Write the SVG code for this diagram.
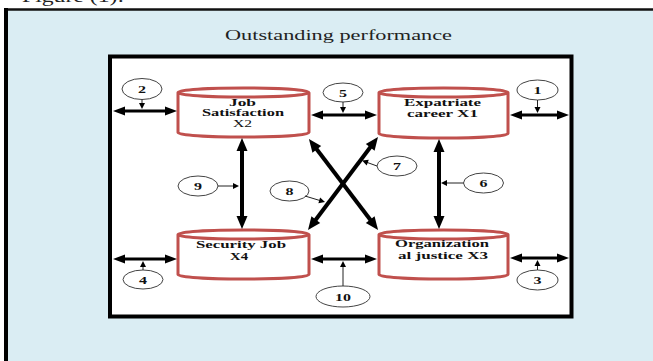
<svg xmlns="http://www.w3.org/2000/svg" width="653" height="361" viewBox="0 0 653 361">
<style>
.cyl{fill:#fff;stroke:#c0504d;stroke-width:3}
.bub{fill:#fff;stroke:#444;stroke-width:1}
.t3{stroke:#000;stroke-width:3;fill:none}
.t4{stroke:#000;stroke-width:4;fill:none}
.th{stroke:#222;stroke-width:1;fill:none}
.lbl{font-family:"Liberation Serif","Times New Roman",serif;font-weight:bold;font-size:10.5px;fill:#111}
.reg{font-weight:normal}
.num{font-family:"Liberation Serif","Times New Roman",serif;font-weight:bold;font-size:10.5px;fill:#111;text-anchor:middle}
</style>
<defs>
<marker id="m3" markerUnits="userSpaceOnUse" markerWidth="12" markerHeight="9" refX="3" refY="4.5" orient="auto-start-reverse" overflow="visible"><path d="M0,0 L12,4.5 L0,9 z" fill="#000"/></marker>
<marker id="m4" markerUnits="userSpaceOnUse" markerWidth="13" markerHeight="11" refX="3" refY="5.5" orient="auto-start-reverse" overflow="visible"><path d="M0,0 L13,5.5 L0,11 z" fill="#000"/></marker>
<marker id="ms" markerUnits="userSpaceOnUse" markerWidth="6" markerHeight="6" refX="1" refY="3" orient="auto" overflow="visible"><path d="M0,0 L6,3 L0,6 z" fill="#000"/></marker>
</defs>

<text x="22" y="2" font-family="Liberation Serif, serif" font-size="16" fill="#222" textLength="102" lengthAdjust="spacingAndGlyphs">Figure (1):</text>

<g id="panel">
<rect x="6" y="9.5" width="660" height="360" fill="#daedf3"/>
<line x1="4" y1="9.5" x2="653" y2="9.5" stroke="#111" stroke-width="2.5"/>
<line x1="6" y1="8" x2="6" y2="361" stroke="#000" stroke-width="4"/>
<text x="225" y="40" font-family="Liberation Serif, serif" font-size="15" fill="#222" textLength="227" lengthAdjust="spacingAndGlyphs">Outstanding performance</text>
<rect x="110" y="56.5" width="461.5" height="260" fill="#fff" stroke="#000" stroke-width="4"/>
</g>

<g id="x2">
<path class="cyl" d="M178,92.5 A65.5,4.5 0 0 1 309,92.5 L309,132.5 A65.5,4.5 0 0 1 178,132.5 Z M178,92.5 A65.5,4.5 0 0 0 309,92.5"/>
<text class="lbl" x="229" y="105.5" textLength="27" lengthAdjust="spacingAndGlyphs">Job</text>
<text class="lbl" x="202" y="116" textLength="82" lengthAdjust="spacingAndGlyphs">Satisfaction</text>
<text class="lbl reg" x="233" y="127" textLength="19" lengthAdjust="spacingAndGlyphs">X2</text>
</g>
<g id="x1">
<path class="cyl" d="M379,92.5 A64.5,4.5 0 0 1 508,92.5 L508,133.5 A64.5,4.5 0 0 1 379,133.5 Z M379,92.5 A64.5,4.5 0 0 0 508,92.5"/>
<text class="lbl" x="404" y="106" textLength="77" lengthAdjust="spacingAndGlyphs">Expatriate</text>
<text class="lbl" x="407" y="117" textLength="71" lengthAdjust="spacingAndGlyphs">career X1</text>
</g>
<g id="x4">
<path class="cyl" d="M178,234.5 A65.5,4.5 0 0 1 309,234.5 L309,274.5 A65.5,4.5 0 0 1 178,274.5 Z M178,234.5 A65.5,4.5 0 0 0 309,234.5"/>
<text class="lbl" x="196" y="248" textLength="90" lengthAdjust="spacingAndGlyphs">Security Job</text>
<text class="lbl" x="230" y="260" textLength="18" lengthAdjust="spacingAndGlyphs">X4</text>
</g>
<g id="x3">
<path class="cyl" d="M379,234.5 A64.5,4.5 0 0 1 508,234.5 L508,274.5 A64.5,4.5 0 0 1 379,274.5 Z M379,234.5 A64.5,4.5 0 0 0 508,234.5"/>
<text class="lbl" x="395" y="247" textLength="94" lengthAdjust="spacingAndGlyphs">Organization</text>
<text class="lbl" x="398" y="258.5" textLength="90" lengthAdjust="spacingAndGlyphs">al justice X3</text>
</g>

<g id="b1"><ellipse class="bub" cx="537.5" cy="90" rx="20.5" ry="10"/><text class="num" x="537.5" y="94" textLength="8" lengthAdjust="spacingAndGlyphs">1</text></g>
<g id="b2"><ellipse class="bub" cx="142" cy="89" rx="20" ry="10.5"/><text class="num" x="142" y="93" textLength="8" lengthAdjust="spacingAndGlyphs">2</text></g>
<g id="b3"><ellipse class="bub" cx="537.5" cy="280" rx="20.5" ry="10"/><text class="num" x="537.5" y="284" textLength="8" lengthAdjust="spacingAndGlyphs">3</text></g>
<g id="b4"><ellipse class="bub" cx="143" cy="279.5" rx="20" ry="9.5"/><text class="num" x="143" y="283.5" textLength="8" lengthAdjust="spacingAndGlyphs">4</text></g>
<g id="b5"><ellipse class="bub" cx="343" cy="92.5" rx="20" ry="9.5"/><text class="num" x="343" y="96.5" textLength="8" lengthAdjust="spacingAndGlyphs">5</text></g>
<g id="b6"><ellipse class="bub" cx="483.5" cy="183" rx="20" ry="10"/><text class="num" x="483.5" y="187" textLength="8" lengthAdjust="spacingAndGlyphs">6</text></g>
<g id="b7"><ellipse class="bub" cx="397" cy="166" rx="20" ry="10"/><text class="num" x="397" y="170" textLength="8" lengthAdjust="spacingAndGlyphs">7</text></g>
<g id="b8"><ellipse class="bub" cx="289.5" cy="191" rx="19.5" ry="10"/><text class="num" x="289.5" y="195" textLength="8" lengthAdjust="spacingAndGlyphs">8</text></g>
<g id="b9"><ellipse class="bub" cx="198" cy="186" rx="20" ry="10"/><text class="num" x="198" y="190" textLength="8" lengthAdjust="spacingAndGlyphs">9</text></g>
<g id="b10"><ellipse class="bub" cx="343" cy="296.5" rx="27" ry="10.5"/><text class="num" x="343" y="300.5" textLength="16" lengthAdjust="spacingAndGlyphs">10</text></g>

<g id="connectors">
<line class="t3" x1="122" y1="111" x2="168" y2="111" marker-start="url(#m3)" marker-end="url(#m3)"/>
<line class="t3" x1="320" y1="115" x2="368" y2="115" marker-start="url(#m3)" marker-end="url(#m3)"/>
<line class="t3" x1="519" y1="115" x2="560" y2="115" marker-start="url(#m3)" marker-end="url(#m3)"/>
<line class="t3" x1="122" y1="259" x2="168" y2="259" marker-start="url(#m3)" marker-end="url(#m3)"/>
<line class="t3" x1="320" y1="259" x2="368" y2="259" marker-start="url(#m3)" marker-end="url(#m3)"/>
<line class="t3" x1="519" y1="258" x2="560" y2="258" marker-start="url(#m3)" marker-end="url(#m3)"/>
<line class="t4" x1="242" y1="148" x2="242" y2="219" marker-start="url(#m4)" marker-end="url(#m4)"/>
<line class="t4" x1="439" y1="149" x2="439" y2="219" marker-start="url(#m4)" marker-end="url(#m4)"/>
<line class="t4" x1="314" y1="222" x2="372" y2="145" marker-start="url(#m4)" marker-end="url(#m4)"/>
<line class="t4" x1="315" y1="147" x2="372" y2="222" marker-start="url(#m4)" marker-end="url(#m4)"/>
<line class="th" x1="142" y1="99.5" x2="142" y2="104" marker-end="url(#ms)"/>
<line class="th" x1="343" y1="102" x2="343" y2="108" marker-end="url(#ms)"/>
<line class="th" x1="537.5" y1="100" x2="537.5" y2="108" marker-end="url(#ms)"/>
<line class="th" x1="143" y1="270" x2="143" y2="266" marker-end="url(#ms)"/>
<line class="th" x1="343" y1="286" x2="343" y2="266" marker-end="url(#ms)"/>
<line class="th" x1="537.5" y1="270" x2="537.5" y2="265" marker-end="url(#ms)"/>
<line class="th" x1="218" y1="186" x2="234" y2="186" marker-end="url(#ms)"/>
<line class="th" x1="463.5" y1="183" x2="446" y2="183" marker-end="url(#ms)"/>
<line class="th" x1="377" y1="166" x2="366.8" y2="162.3" marker-end="url(#ms)"/>
<line class="th" x1="305" y1="196" x2="320.2" y2="200.6" marker-end="url(#ms)"/>
</g>
</svg>
